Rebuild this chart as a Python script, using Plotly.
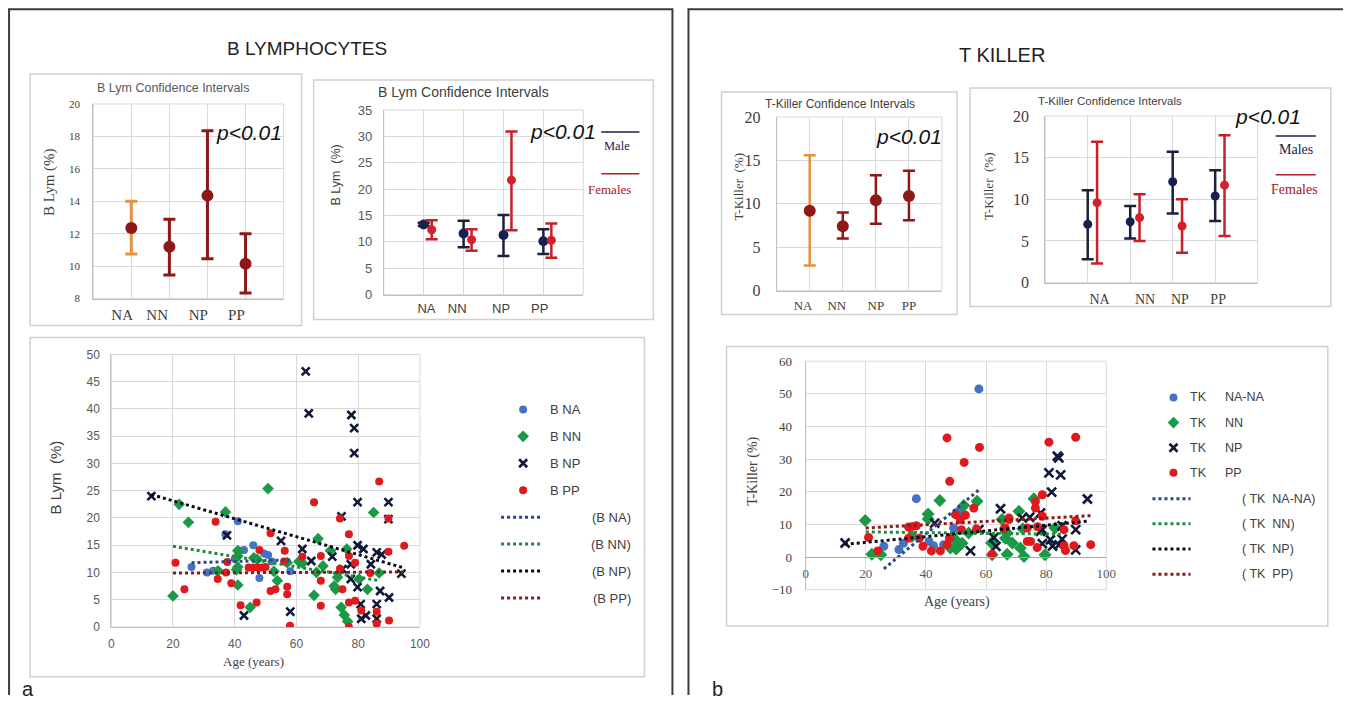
import plotly.graph_objects as go

# figure canvas size
W, H = 1353, 704
# the figure sits inside the page body; the page area that is shown is
# slightly larger than the canvas, so layout positions below are given in that grid
OFF_X, OFF_Y = 3, 8
KX, KY = (W + 16) / W, (H + 16) / H

# ---------------- data ----------------
categories = ["NA", "NN", "NP", "PP"]

# B lymphocytes (%), 95% confidence intervals, all subjects
blym_mean = [12.35, 11.2, 14.35, 10.15]
blym_low = [10.75, 9.45, 10.45, 8.35]
blym_high = [14.0, 12.9, 18.35, 12.0]

# B lymphocytes (%) by sex
blym_male_mean = [13.3, 11.6, 11.3, 10.1]
blym_male_low = [13.0, 9.0, 7.3, 7.7]
blym_male_high = [13.6, 14.0, 15.1, 12.4]
blym_female_mean = [12.3, 10.4, 21.7, 10.3]
blym_female_low = [10.5, 8.3, 12.2, 7.0]
blym_female_high = [14.1, 12.4, 30.9, 13.5]

# T-killer (%), all subjects
tk_mean = [9.2, 7.4, 10.4, 10.9]
tk_low = [2.9, 6.0, 7.7, 8.1]
tk_high = [15.6, 9.0, 13.3, 13.8]

# T-killer (%) by sex
tk_male_mean = [7.0, 7.3, 12.1, 10.4]
tk_male_low = [2.8, 5.3, 8.3, 7.4]
tk_male_high = [11.1, 9.2, 15.7, 13.5]
tk_female_mean = [9.6, 7.8, 6.8, 11.7]
tk_female_low = [2.3, 5.0, 3.6, 5.6]
tk_female_high = [16.9, 10.6, 10.0, 17.7]

# B lymphocytes vs age
b_na_age = [26, 31, 33, 37, 40, 41, 41.5, 43, 46, 47, 48, 49.5, 50.8, 52, 58]
b_na_val = [11, 10, 10.3, 17, 12.5, 19.4, 14, 14.1, 15, 12.5, 9, 13.5, 13.2, 12, 10.2]

b_nn_age = [20, 22, 25, 34.6, 37, 41, 41, 41, 40.6, 41, 45, 46.2, 47.3, 50.8, 52.7,
            53.8, 57, 60.8, 62, 65.7, 67, 68.6, 66.5, 71, 72.2, 72.7, 73.3, 76.3, 74.5, 75.5,
            76.6, 80.3, 83, 85, 86.8]
b_nn_val = [5.7, 22.5, 19.2, 10.3, 21.1, 14, 13, 11, 10.5, 7.7, 3.6, 12.7, 12.4, 25.4, 10.2,
            8.5, 11.8, 12, 11.7, 5.8, 16.2, 11.2, 10, 14, 7.5, 6.9, 9.1, 14.3, 3.6, 2.2,
            1.0, 8.8, 6.9, 21, 9.9]

b_np_age = [13, 37.5, 43, 55, 58, 61.9, 63, 64, 64.8, 71.6, 74.6, 74.9, 77.6, 77.8, 78.7,
            78.7, 79.8, 79.8, 81.7, 84.1, 86, 87.6, 77.6, 79.8, 87.1, 80.8, 86, 90, 81, 82.5,
            86, 89.8, 89.8, 94]
b_np_val = [24, 16.8, 2.1, 15.8, 2.8, 14.3, 46.9, 39.2, 12.1, 12.9, 20.3, 10.6, 11.5, 38.9, 36.5,
            31.9, 22.9, 15, 14.3, 11.5, 13.7, 13.3, 8.8, 7.3, 6.6, 4.2, 4.2, 5.4, 1.5, 2.1,
            1.5, 22.9, 19.8, 9.8]

b_pp_age = [20.8, 23.7, 33.8, 34.5, 37.6, 37.2, 38.9, 41.9, 47.1, 48, 44.5, 46, 47.5, 48.8, 50,
            51.6, 56.2, 56, 51.6, 53.2, 57, 57, 57.9, 86.8, 65.7, 74.1, 89.8, 77, 94.9, 89.8,
            61.9, 67.9, 77, 79, 74.1, 83.9, 67.9, 74.9, 67.9, 77, 79, 81, 86, 90, 86, 77]
b_pp_val = [11.8, 6.9, 19.3, 8.8, 11.9, 10, 8, 4, 4.5, 14.1, 10.9, 10.9, 10.9, 10.9, 11,
            17.2, 14, 12, 6.6, 6.9, 7.4, 6, 0.2, 26.7, 22.9, 19.9, 19.9, 17, 14.9, 13.8,
            12.9, 13, 13, 11.8, 10.7, 9.9, 8.5, 6.9, 3.9, 4.5, 4.8, 3, 2.8, 1.2, 0.6, 0]

# linear trend lines (start / end) for B lymphocytes
b_na_trend_age = [26, 58]
b_na_trend_val = [11.8, 12.3]
b_nn_trend_age = [20, 87]
b_nn_trend_val = [14.8, 8.5]
b_np_trend_age = [13, 95]
b_np_trend_val = [24.3, 10.8]
b_pp_trend_age = [20, 95]
b_pp_trend_val = [9.9, 10.1]

# T-killer vs age
tk_na_age = [26, 31, 32.5, 36.8, 41, 42.5, 45.9, 49.2, 50.9, 51.8, 57.6]
tk_na_val = [3.3, 2.3, 4.2, 17.9, 4.8, 3.5, 3.8, 8.9, 14, 13.8, 51.5]

tk_nn_age = [19.8, 22, 25, 35.3, 40.7, 40.7, 44.6, 48.1, 50.3, 51, 52.6, 54.2, 57, 49, 50,
             52, 61.8, 62, 65.3, 66.4, 67, 67, 68.7, 70.9, 71.4, 72.2, 72.6, 75.9, 79.6, 82.9]
tk_nn_val = [11.2, 0.9, 0.7, 6.3, 13.2, 11.7, 17.3, 2.8, 4.8, 3.5, 15.8, 7.4, 17.1, 6, 2.5,
             4.2, 4.3, 0.7, 11.5, 5.8, 0.9, 7.4, 4.3, 14, 2.8, 8.7, 0.2, 17.9, 0.7, 8.9]

tk_np_age = [13.1, 42.9, 54.8, 57.6, 62.6, 63.3, 64.8, 72, 74.5, 78.1, 78.1, 78.7, 78.7, 80.9,
             81.4, 81.8, 82.1, 83.7, 84.2, 84.2, 84.8, 85.3, 85.3, 89.8, 89.8, 93.7]
tk_np_val = [4.3, 10.4, 1.9, 8.4, 6, 3.3, 14.8, 12, 12.2, 13.5, 7.9, 8.4, 4.1, 25.8,
             5.3, 19.9, 3.4, 30.9, 30.4, 3.7, 25.2, 9.6, 5.5, 8.4, 2.2, 17.8]

tk_pp_age = [20.9, 24, 34.2, 35.6, 36.8, 34.2, 37.8, 39, 41.8, 44.8, 47, 47.8, 47, 57.8, 52.7,
             47.9, 55.9, 53.1, 49.8, 51.4, 51.8, 56.8, 62, 65.9, 67.6, 66.4, 73.7, 77.1, 80.9, 89.8,
             78.7, 76.4, 76.4, 78.7, 85.9, 89.8, 73.7, 74.8, 77, 85.9, 86.4, 94.8, 89.2, 67.6]
tk_pp_val = [6, 1.9, 9.2, 9.4, 9.6, 5.8, 5.8, 3.3, 1.9, 1.9, 3.8, 5.8, 36.5, 33.6, 29,
             23.2, 15, 12.8, 13, 11.5, 8.4, 8.6, 0.9, 8.6, 11.5, 8.9, 8.9, 9.3, 35.2, 36.7,
             19.1, 17, 15, 12.5, 8.4, 11.1, 4.8, 4.8, 2.9, 3.5, 2, 3.8, 3.5, 12]

# linear trend lines (start / end) for T-killer
tk_na_trend_age = [26, 57.5]
tk_na_trend_val = [-3.6, 20.5]
tk_nn_trend_age = [20, 85]
tk_nn_trend_val = [7.7, 7.0]
tk_np_trend_age = [13, 94]
tk_np_trend_val = [3.9, 11.0]
tk_pp_trend_age = [20, 95]
tk_pp_trend_val = [8.9, 12.7]

# ---------------- style ----------------
SANS = "Liberation Sans, Arial, sans-serif"
SERIF = "Liberation Serif, Times New Roman, serif"
GRID = "#D9D9D9"
FRAME = "#D0D0D0"
AXLINE = "#BFBFBF"
TICK = "#595959"
DARK = "#404040"
ORANGE = "#E3923F"
DARKRED = "#8E1717"
NAVY = "#17214F"
NAVY_BAR = "#1C2038"
RED = "#D4202A"
RED_BAR = "#C81E28"
S_BLUE = "#4472C4"
S_GREEN = "#1A9A46"
S_NAVY = "#101838"
S_RED = "#E0191C"


# grid positions -> figure paper fractions
def fx(px):
    return px * KX - OFF_X


def fy(py):
    return py * KY - OFF_Y


def xdom(left, right):
    return [fx(left) / W, fx(right) / W]


def ydom(top, bottom):
    return [1 - fy(bottom) / H, 1 - fy(top) / H]


fig = go.Figure()
cat_x = list(range(1, len(categories) + 1))


def ci_trace(xs, mean, low, high, mcolor, bcolor, axes, size, thick, cap):
    fig.add_trace(go.Scatter(
        x=xs, y=mean, mode="markers", xaxis=axes[0], yaxis=axes[1],
        marker=dict(color=mcolor, size=size),
        error_y=dict(type="data", symmetric=False,
                     array=[h - m for h, m in zip(high, mean)],
                     arrayminus=[m - l for m, l in zip(mean, low)],
                     color=bcolor, thickness=thick, width=cap),
        showlegend=False, hoverinfo="skip", cliponaxis=False))


# B lymphocyte confidence intervals
ci_trace(cat_x[:1], blym_mean[:1], blym_low[:1], blym_high[:1], DARKRED, ORANGE, ("x", "y"), 12, 3, 6)
ci_trace(cat_x[1:], blym_mean[1:], blym_low[1:], blym_high[1:], DARKRED, DARKRED, ("x", "y"), 12, 3, 6)

ci_trace(cat_x, blym_male_mean, blym_male_low, blym_male_high, NAVY, NAVY_BAR, ("x2", "y2"), 10, 2.5, 6)
ci_trace([c + 0.2 for c in cat_x], blym_female_mean, blym_female_low, blym_female_high,
         RED, RED_BAR, ("x2", "y2"), 9, 2.5, 6)

# T-killer confidence intervals
ci_trace(cat_x[:1], tk_mean[:1], tk_low[:1], tk_high[:1], DARKRED, ORANGE, ("x3", "y3"), 12, 2.5, 6)
ci_trace(cat_x[1:], tk_mean[1:], tk_low[1:], tk_high[1:], DARKRED, DARKRED, ("x3", "y3"), 12, 2.5, 6)

ci_trace(cat_x, tk_male_mean, tk_male_low, tk_male_high, NAVY, NAVY_BAR, ("x4", "y4"), 9, 2.5, 6)
ci_trace([c + 0.22 for c in cat_x], tk_female_mean, tk_female_low, tk_female_high,
         RED, RED_BAR, ("x4", "y4"), 9, 2.5, 6)


def marker_style(symbol, color, size):
    if symbol == "x-thin":
        return dict(symbol=symbol, size=size, line=dict(color=color, width=2.6))
    return dict(symbol=symbol, size=size, color=color)


def points(ages, vals, axes, symbol, color, size):
    fig.add_trace(go.Scatter(x=ages, y=vals, mode="markers", xaxis=axes[0], yaxis=axes[1],
                             marker=marker_style(symbol, color, size),
                             showlegend=False, hoverinfo="skip"))


def trend(ages, vals, axes, color):
    fig.add_trace(go.Scatter(x=ages, y=vals, mode="lines", xaxis=axes[0], yaxis=axes[1],
                             line=dict(color=color, width=3, dash="dot"),
                             showlegend=False, hoverinfo="skip"))


series_style = [("circle", S_BLUE, 8), ("diamond", S_GREEN, 9),
                ("x-thin", S_NAVY, 8), ("circle", S_RED, 8)]
trend_colors = ["#2B478C", "#1E8C3E", "#0B0B18", "#8B1A1A"]

b_series = [(b_na_age, b_na_val), (b_nn_age, b_nn_val), (b_np_age, b_np_val), (b_pp_age, b_pp_val)]
b_trends = [(b_na_trend_age, b_na_trend_val), (b_nn_trend_age, b_nn_trend_val),
            (b_np_trend_age, b_np_trend_val), (b_pp_trend_age, b_pp_trend_val)]
for (ages, vals), (sym, col, sz) in zip(b_series, series_style):
    points(ages, vals, ("x5", "y5"), sym, col, sz)
for (ages, vals), col in zip(b_trends, trend_colors):
    trend(ages, vals, ("x5", "y5"), col)

tk_series = [(tk_na_age, tk_na_val), (tk_nn_age, tk_nn_val), (tk_np_age, tk_np_val), (tk_pp_age, tk_pp_val)]
tk_trends = [(tk_na_trend_age, tk_na_trend_val), (tk_nn_trend_age, tk_nn_trend_val),
             (tk_np_trend_age, tk_np_trend_val), (tk_pp_trend_age, tk_pp_trend_val)]
for (ages, vals), (sym, col, sz) in zip(tk_series, series_style):
    points(ages, vals, ("x6", "y6"), sym, col, sz + 1)
for (ages, vals), col in zip(tk_trends, trend_colors):
    trend(ages, vals, ("x6", "y6"), col)

# ---------------- legends (grid overlay) ----------------
b_legend_names = ["B NA", "B NN", "B NP", "B PP"]
tk_legend_names = ["NA-NA", "NN", "NP", "PP"]

annotations = []


def text(x, y, s, size, family=SANS, color=DARK, xanchor="center", angle=0, style="normal"):
    annotations.append(dict(x=x, y=y, xref="x7", yref="y7", text=s, showarrow=False,
                            xanchor=xanchor, yanchor="middle", textangle=angle,
                            font=dict(family=family, size=size, color=color, style=style)))


for i, ((sym, col, sz), name) in enumerate(zip(series_style, b_legend_names)):
    y = 410 + 27 * i
    fig.add_trace(go.Scatter(x=[522], y=[y], mode="markers", xaxis="x7", yaxis="y7",
                             marker=marker_style(sym, col, sz), showlegend=False, hoverinfo="skip"))
    text(547, y, name, 13, xanchor="left")
for i, (col, name) in enumerate(zip(trend_colors, b_legend_names)):
    y = 518 + 27 * i
    fig.add_trace(go.Scatter(x=[500, 540], y=[y, y], mode="lines", xaxis="x7", yaxis="y7",
                             line=dict(color=col, width=3, dash="dot"), showlegend=False, hoverinfo="skip"))
    text(632, y, "(" + name + ")", 13, xanchor="right")

for i, ((sym, col, sz), name) in enumerate(zip(series_style, tk_legend_names)):
    y = 398 + 25.2 * i
    fig.add_trace(go.Scatter(x=[1171], y=[y], mode="markers", xaxis="x7", yaxis="y7",
                             marker=marker_style(sym, col, sz), showlegend=False, hoverinfo="skip"))
    text(1185, y, "TK", 12.5, xanchor="left")
    text(1220, y, name, 12.5, xanchor="left")
for i, (col, name) in enumerate(zip(trend_colors, tk_legend_names)):
    y = 499.5 + 25.2 * i
    fig.add_trace(go.Scatter(x=[1150, 1188], y=[y, y], mode="lines", xaxis="x7", yaxis="y7",
                             line=dict(color=col, width=3, dash="dot"), showlegend=False, hoverinfo="skip"))
    text(1237, y, "( TK  " + name + ")", 12.5, xanchor="left")

# ---------------- texts ----------------
text(306, 48, "B LYMPHOCYTES", 19, color="#222222")
text(1000, 55, "T KILLER", 20, color="#222222")
text(20, 690, "a", 20, color="#222222", xanchor="left")
text(708, 690, "b", 20, color="#222222", xanchor="left")

text(173, 88, "B Lym Confidence Intervals", 12.5, color=TICK)
text(462, 92, "B Lym Confidence Intervals", 14, color=DARK)
text(838, 104, "T-Killer Confidence Intervals", 12, color=DARK)
text(1108, 101, "T-Killer Confidence Intervals", 11.5, color=DARK)

text(248, 133, "p<0.01", 21, color="#111111", style="italic")
text(562, 132, "p<0.01", 21, color="#111111", style="italic")
text(907, 137, "p<0.01", 21, color="#111111", style="italic")
text(1265, 117, "p<0.01", 21, color="#111111", style="italic")

text(50, 182, "B Lym (%)", 15, family=SERIF, angle=-90)
text(335, 175, "B Lym  (%)", 12.5, angle=-90)
text(737, 187, "T-Killer  (%)", 13, family=SERIF, angle=-90)
text(987, 187, "T-Killer  (%)", 13, family=SERIF, angle=-90)
text(55, 478, "B Lym  (%)", 15, color=DARK, angle=-90)
text(752, 472, "T-Killer (%)", 14, family=SERIF, angle=-90)
text(253, 663, "Age (years)", 13, family=SERIF)
text(955, 603, "Age (years)", 14, family=SERIF)

# sex legends of the confidence-interval charts
text(616, 146, "Male", 12.5, family=SERIF, color=NAVY)
text(608, 190, "Females", 13, family=SERIF, color="#A8141E")
text(1293, 150, "Males", 14, family=SERIF, color=NAVY)
text(1292, 190, "Females", 14, family=SERIF, color="#A8141E")

shapes = []


def px_line(x0, y0, x1, y1, color, width):
    shapes.append(dict(type="line", xref="x7", yref="y7", x0=x0, y0=y0, x1=x1, y1=y1,
                       line=dict(color=color, width=width)))


def px_rect(x0, y0, x1, y1, color, width):
    shapes.append(dict(type="rect", xref="x7", yref="y7", x0=x0, y0=y0, x1=x1, y1=y1,
                       line=dict(color=color, width=width), fillcolor="rgba(0,0,0,0)", layer="above"))


px_line(600, 132, 638, 132, NAVY, 1.5)
px_line(600, 174, 638, 174, "#B01E28", 1.5)
px_line(1273, 136, 1313, 136, NAVY, 1.5)
px_line(1273, 175, 1313, 175, "#B01E28", 1.5)

# outer panels
px_rect(9, 9, 671, 730, "#3C3C3C", 2)
px_rect(687, 9, 1344, 730, "#3C3C3C", 2)
# chart boxes
px_rect(30, 74, 301, 326, FRAME, 1.5)
px_rect(313, 80, 652, 320, FRAME, 1.5)
px_rect(720, 92, 955, 315, FRAME, 1.5)
px_rect(968, 88, 1328, 307, FRAME, 1.5)
px_rect(30, 338, 643, 678, FRAME, 1.5)
px_rect(725, 347, 1325, 627, FRAME, 1.5)

# plot-area frames
for ax in ["", "2", "3", "4", "5", "6"]:
    shapes.append(dict(type="rect", xref="x%s domain" % ax, yref="y%s domain" % ax,
                       x0=0, x1=1, y0=0, y1=1, line=dict(color=GRID, width=1),
                       fillcolor="rgba(0,0,0,0)", layer="below"))


def cat_axis(dom, labels_at, font):
    return dict(domain=dom, range=[0, 5], tickmode="array", tickvals=labels_at, ticktext=categories,
                showgrid=False, zeroline=False, ticks="", showline=True, linecolor=AXLINE,
                minor=dict(tickmode="array", tickvals=cat_x, showgrid=True, gridcolor=GRID, ticks=""),
                tickfont=font, fixedrange=True)


def val_axis(dom, rng, step, font, standoff):
    return dict(domain=dom, range=rng, tickmode="linear", tick0=rng[0], dtick=step,
                showgrid=True, gridcolor=GRID, zeroline=False, ticks="", showline=True,
                linecolor=AXLINE, tickfont=font, ticklabelstandoff=standoff, fixedrange=True)


sb_ydom = ydom(361.7, 590.7)
zero_pos = sb_ydom[0] + (sb_ydom[1] - sb_ydom[0]) * (10 / 70)

fig.update_layout(
    width=W, height=H, margin=dict(l=0, r=0, t=0, b=0),
    paper_bgcolor="white", plot_bgcolor="rgba(0,0,0,0)", showlegend=False,
    xaxis=dict(cat_axis(xdom(93, 283), [0.76, 1.68, 2.76, 3.76],
                        dict(family=SERIF, size=15, color=DARK)), anchor="y", ticklabelstandoff=2),
    yaxis=dict(val_axis(ydom(104, 299), [8, 20], 2, dict(family=SERIF, size=11, color=DARK), 10), anchor="x"),
    xaxis2=dict(cat_axis(xdom(383, 582), [1.07, 1.84, 2.94, 3.91],
                         dict(family=SANS, size=13, color=DARK)), anchor="y2", ticklabelstandoff=2),
    yaxis2=dict(val_axis(ydom(110, 295), [0, 35], 5, dict(family=SANS, size=13, color=TICK), 8), anchor="x2"),
    xaxis3=dict(cat_axis(xdom(775, 940), [0.8, 1.82, 3.0, 4.0],
                         dict(family=SERIF, size=13, color=DARK)), anchor="y3", ticklabelstandoff=3),
    yaxis3=dict(val_axis(ydom(117, 291), [0, 20], 5, dict(family=SERIF, size=16, color=DARK), 12), anchor="x3"),
    xaxis4=dict(cat_axis(xdom(1043, 1255), [1.28, 2.35, 3.17, 4.07],
                         dict(family=SERIF, size=14, color=DARK)), anchor="y4", ticklabelstandoff=4),
    yaxis4=dict(val_axis(ydom(116, 283), [0, 20], 5, dict(family=SERIF, size=16, color=DARK), 12), anchor="x4"),
    xaxis5=dict(domain=xdom(111, 419), range=[0, 100], tickmode="linear", tick0=0, dtick=20,
                showgrid=True, gridcolor=GRID, zeroline=False, ticks="", showline=True, linecolor=AXLINE,
                tickfont=dict(family=SANS, size=12, color=TICK), ticklabelstandoff=6, anchor="y5",
                fixedrange=True),
    yaxis5=dict(val_axis(ydom(355, 628), [0, 50], 5, dict(family=SANS, size=12, color=TICK), 8), anchor="x5"),
    xaxis6=dict(domain=xdom(804, 1104), range=[0, 100], tickmode="linear", tick0=0, dtick=20,
                showgrid=True, gridcolor=GRID, zeroline=False, ticks="", showline=True, linecolor="#A6A6A6",
                tickfont=dict(family=SERIF, size=13, color=TICK), ticklabelstandoff=4,
                anchor="free", position=zero_pos, fixedrange=True),
    yaxis6=dict(val_axis(sb_ydom, [-10, 60], 10, dict(family=SERIF, size=13, color=DARK), 10), anchor="x6"),
    # overlay axes spanning the whole canvas, in grid units
    xaxis7=dict(domain=[0, 1], range=[OFF_X / KX, (W + OFF_X) / KX], visible=False, fixedrange=True, anchor="y7"),
    yaxis7=dict(domain=[0, 1], range=[(H + OFF_Y) / KY, OFF_Y / KY], visible=False, fixedrange=True, anchor="x7"),
    annotations=annotations,
    shapes=shapes,
)

fig.write_html("out.html")
